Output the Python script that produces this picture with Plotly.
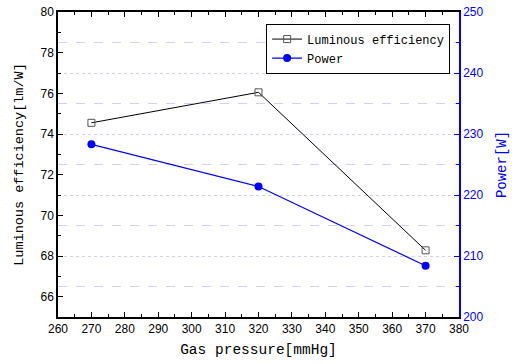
import plotly.graph_objects as go

pressure = [270, 320, 370]
luminous_eff = [74.55, 76.05, 68.28]
power = [228.3, 221.4, 208.4]

mono = "Liberation Mono"
sans = "Liberation Sans, Arial, sans-serif"
grid_c = "#d2d2f0"

fig = go.Figure()
fig.add_trace(go.Scatter(
    x=pressure, y=luminous_eff, name="Luminous efficiency", mode="lines+markers",
    line=dict(color="black", width=1),
    marker=dict(symbol="square-open", size=7, color="#555555", line=dict(width=1)),
))
fig.add_trace(go.Scatter(
    x=pressure, y=power, name="Power", mode="lines+markers", yaxis="y2",
    line=dict(color="#0000ff", width=1.2),
    marker=dict(symbol="circle", size=8, color="#0000ff"),
))

fig.update_layout(
    width=512, height=364,
    margin=dict(l=58, r=53, t=12, b=47),
    paper_bgcolor="white", plot_bgcolor="white",
    showlegend=True,
    legend=dict(x=0.519, y=0.962, xanchor="left", yanchor="top",
                bordercolor="black", borderwidth=1, bgcolor="white",
                font=dict(family=mono, size=12, color="black"),
                tracegroupgap=0, itemwidth=30),
    xaxis=dict(
        range=[260, 380], dtick=10, tick0=260, automargin=False,
        showline=True, linecolor="black", linewidth=1.5, mirror="ticks",
        ticks="inside", ticklen=5, tickcolor="black", tickwidth=1,
        minor=dict(dtick=5, ticks="inside", ticklen=3, tickcolor="black", showgrid=False),
        showgrid=False, zeroline=False,
        tickfont=dict(family=sans, size=12, color="black"),
        title=dict(text="Gas pressure[mmHg]", font=dict(family=mono, size=14.5, color="black"), standoff=9),
    ),
    yaxis=dict(
        range=[65, 80], dtick=2, tick0=66, automargin=False,
        showline=True, linecolor="black", linewidth=1.5,
        ticks="inside", ticklen=5, tickcolor="black", tickwidth=1,
        minor=dict(dtick=1, ticks="inside", ticklen=3, tickcolor="black", showgrid=False),
        showgrid=False, zeroline=False,
        tickfont=dict(family=sans, size=12, color="black"),
        title=dict(text="Luminous efficiency[lm/W]", font=dict(family=mono, size=13.5, color="black"), standoff=14),
    ),
    yaxis2=dict(
        range=[200, 250], dtick=10, tick0=200, overlaying="y", side="right", automargin=False,
        showline=True, linecolor="#0000ff", linewidth=1.5,
        ticks="inside", ticklen=5, tickcolor="#0000ff", tickwidth=1,
        showgrid=True, gridcolor=grid_c, griddash="dot", gridwidth=1,
        minor=dict(dtick=5, ticks="inside", ticklen=3, tickcolor="#0000ff",
                   showgrid=True, gridcolor=grid_c, griddash="dash", gridwidth=1),
        zeroline=False,
        tickfont=dict(family=sans, size=12, color="#0000ff"),
        title=dict(text="Power[W]", font=dict(family=mono, size=14, color="#0000ff"), standoff=14),
    ),
)

fig.write_html("out.html")
